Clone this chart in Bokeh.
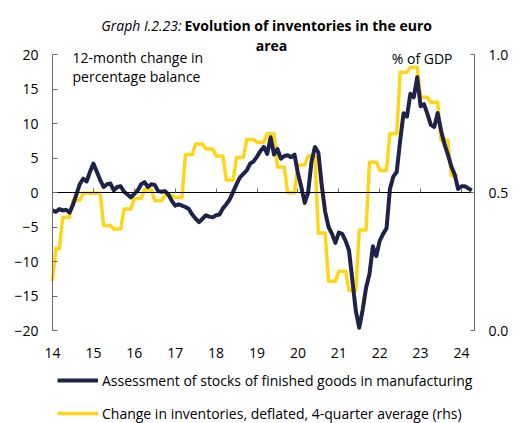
import numpy as np
from bokeh.plotting import figure
from bokeh.models import (Range1d, LinearAxis, FixedTicker, Label, Legend,
                          LegendItem, PrintfTickFormatter)
from bokeh.embed import file_html
from bokeh.resources import INLINE

FONT = "Open Sans"

# ---------------- data ----------------
years = list(range(2014, 2025))
year_labels = ["14", "15", "16", "17", "18", "19", "20", "21", "22", "23", "24"]
left_ticks = [-20, -15, -10, -5, 0, 5, 10, 15, 20]
right_ticks = [0.0, 0.5, 1.0]

# Assessment of stocks of finished goods in manufacturing (monthly, Jan 2014 - Apr 2024)
stocks_2014 = [-2.6, -2.8, -2.4, -2.6, -2.5, -2.9, -1.8, -0.3, 1.2, 2.0, 1.6, 3.0]
stocks_2015 = [4.2, 3.0, 1.8, 0.8, 1.2, 1.3, 0.3, 0.8, 0.9, 0.1, -0.3, -0.7]
stocks_2016 = [-0.2, 0.3, 1.2, 1.5, 0.8, 1.2, 1.1, 0.2, 0.1, 0.2, -0.3, -1.2]
stocks_2017 = [-1.9, -1.7, -1.9, -2.1, -2.4, -3.2, -3.8, -4.3, -3.8, -3.3, -3.5, -3.6]
stocks_2018 = [-3.3, -3.2, -2.3, -1.7, -1.0, 0.1, 1.2, 2.2, 2.7, 3.2, 4.2, 4.5]
stocks_2019 = [5.2, 6.0, 6.6, 5.6, 8.0, 5.5, 6.3, 4.9, 5.3, 5.4, 5.1, 5.5]
stocks_2020 = [2.8, 0.8, -1.5, 0.0, 4.5, 6.6, 5.8, 1.0, -2.8, -5.0, -6.0, -7.3]
stocks_2021 = [-5.8, -6.0, -7.0, -8.4, -12.8, -17.2, -19.6, -17.0, -13.8, -11.8, -7.8, -9.2]
stocks_2022 = [-7.0, -6.0, -5.2, 0.5, 2.3, 3.0, 7.5, 11.5, 11.0, 14.3, 13.8, 16.7]
stocks_2023 = [12.5, 12.8, 11.4, 9.8, 9.5, 11.5, 9.0, 7.0, 5.5, 3.8, 2.6, 0.5]
stocks_2024 = [0.9, 0.9, 0.6, 0.3]

# Change in inventories, deflated, 4-quarter average (% of GDP), quarterly 2014Q1 - 2023Q4
inv_first_month = 0.18
inv_q = [0.297, 0.41, 0.472, 0.497,
         0.497, 0.38, 0.368, 0.44,
         0.478, 0.51, 0.47, 0.489,
         0.482, 0.638, 0.676, 0.658,
         0.632, 0.545, 0.627, 0.692,
         0.682, 0.713, 0.592, 0.499,
         0.60, 0.632, 0.353, 0.178,
         0.215, 0.145, 0.364, 0.61,
         0.58, 0.713, 0.936, 0.954,
         0.845, 0.827, 0.69, 0.562]

label_stocks = "Assessment of stocks of finished goods in manufacturing"
label_inv = "Change in inventories, deflated, 4-quarter average (rhs)"

# ---------------- build series ----------------
stocks = (stocks_2014 + stocks_2015 + stocks_2016 + stocks_2017 + stocks_2018 +
          stocks_2019 + stocks_2020 + stocks_2021 + stocks_2022 + stocks_2023 + stocks_2024)
x_stocks = 2014 + np.arange(len(stocks)) / 12.0

inv_m = list(np.repeat(inv_q, 3))
inv_m[0] = inv_first_month
x_inv = 2014 + np.arange(len(inv_m)) / 12.0

NAVY = "#1f2249"
YELLOW = "#FFD617"
AXIS_C = "#6a6a6a"

# Frame covers the whole canvas; the chart band sits at x 52..474 px, y 54..330 px
W, H = 514, 423
PX_PER_YEAR = 40.9
PX_PER_UNIT = 6.9
left_pad, top_pad, bot_pad = 52, 54, 93
x_start, x_end = 2014.0, 2014.0 + 422 / PX_PER_YEAR
x_lo = x_start - left_pad / PX_PER_YEAR
x_hi = x_start + (W - left_pad) / PX_PER_YEAR
y_lo = -20 - bot_pad / PX_PER_UNIT
y_hi = 20 + top_pad / PX_PER_UNIT
r_lo = 0 - bot_pad / (PX_PER_UNIT * 40)
r_hi = 1 + top_pad / (PX_PER_UNIT * 40)

p = figure(width=W, height=H, output_backend="svg", toolbar_location=None,
           x_range=Range1d(x_lo, x_hi), y_range=Range1d(y_lo, y_hi),
           min_border_left=0, min_border_right=0, min_border_top=0,
           min_border_bottom=0)
p.extra_y_ranges = {"rhs": Range1d(r_lo, r_hi)}
p.outline_line_color = None
p.xgrid.grid_line_color = None
p.ygrid.grid_line_color = None
p.background_fill_color = "white"
p.border_fill_color = "white"

# labelled x axis, at the bottom of the -20..20 band
xa = p.xaxis[0]
xa.fixed_location = -20
xa.ticker = FixedTicker(ticks=years)
xa.major_label_overrides = {y: l for y, l in zip(years, year_labels)}
xa.axis_line_color = None
xa.major_tick_line_color = None
xa.minor_tick_line_color = None
xa.major_label_standoff = 11
xa.major_label_text_font = FONT
xa.major_label_text_font_size = "14px"
xa.major_label_text_color = "black"

# zero line with year ticks
za = LinearAxis(fixed_location=0, ticker=FixedTicker(ticks=years),
                bounds=(x_start, x_end))
za.axis_line_color = "black"
za.axis_line_width = 1
za.major_tick_line_color = AXIS_C
za.major_tick_in = 4
za.major_tick_out = 0
za.minor_tick_line_color = None
za.major_label_text_color = None
p.add_layout(za, "below")

# left axis
ya = p.yaxis[0]
ya.fixed_location = x_start
ya.ticker = FixedTicker(ticks=left_ticks)
ya.bounds = (-20, 20)
ya.axis_line_color = AXIS_C
ya.major_tick_line_color = AXIS_C
ya.major_tick_in = 5
ya.major_tick_out = 0
ya.minor_tick_line_color = None
ya.major_label_standoff = 14
ya.major_label_text_font = FONT
ya.major_label_text_font_size = "14px"
ya.major_label_text_color = "black"

# right axis
ra = LinearAxis(y_range_name="rhs", ticker=FixedTicker(ticks=right_ticks),
                formatter=PrintfTickFormatter(format="%.1f"), bounds=(0, 1),
                fixed_location=x_end)
ra.axis_line_color = AXIS_C
ra.major_tick_line_color = AXIS_C
ra.major_tick_in = 4
ra.major_tick_out = 0
ra.minor_tick_line_color = None
ra.major_label_standoff = 14
ra.major_label_text_font = FONT
ra.major_label_text_font_size = "14px"
ra.major_label_text_color = "black"
p.add_layout(ra, "right")

r_inv = p.line(x_inv, inv_m, y_range_name="rhs", line_color=YELLOW, line_width=3.5,
               line_join="round")
r_stk = p.line(x_stocks, stocks, line_color=NAVY, line_width=4, line_join="round")

legend = Legend(items=[LegendItem(label=label_stocks, renderers=[r_stk]),
                       LegendItem(label=label_inv, renderers=[r_inv])],
                location=(57, 0), orientation="vertical",
                glyph_width=41, glyph_height=20, label_height=20, label_standoff=4,
                spacing=13, padding=0, margin=0, border_line_color=None,
                background_fill_alpha=0, label_text_font=FONT,
                label_text_font_size="14px", label_text_color="black")
p.add_layout(legend)

def lab(x, y, text, align="left", style="normal"):
    p.add_layout(Label(x=x, y=y, x_units="screen", y_units="screen", text=text,
                       text_font=FONT, text_font_size="14px", text_font_style=style,
                       text_align=align, text_baseline="alphabetic", text_color="black"))

# screen units: from the canvas bottom-left (frame covers the full canvas)
lab(181, 398, "Graph I.2.23:", align="right", style="italic")
lab(184, 398, "Evolution of inventories in the euro", align="left", style="bold")
lab(271, 378, "area", align="center", style="bold")
lab(72, 366, "12-month change in")
lab(72, 347, "percentage balance")
lab(452, 365, "% of GDP", align="right")

open("out.html", "w").write(file_html(p, INLINE))
